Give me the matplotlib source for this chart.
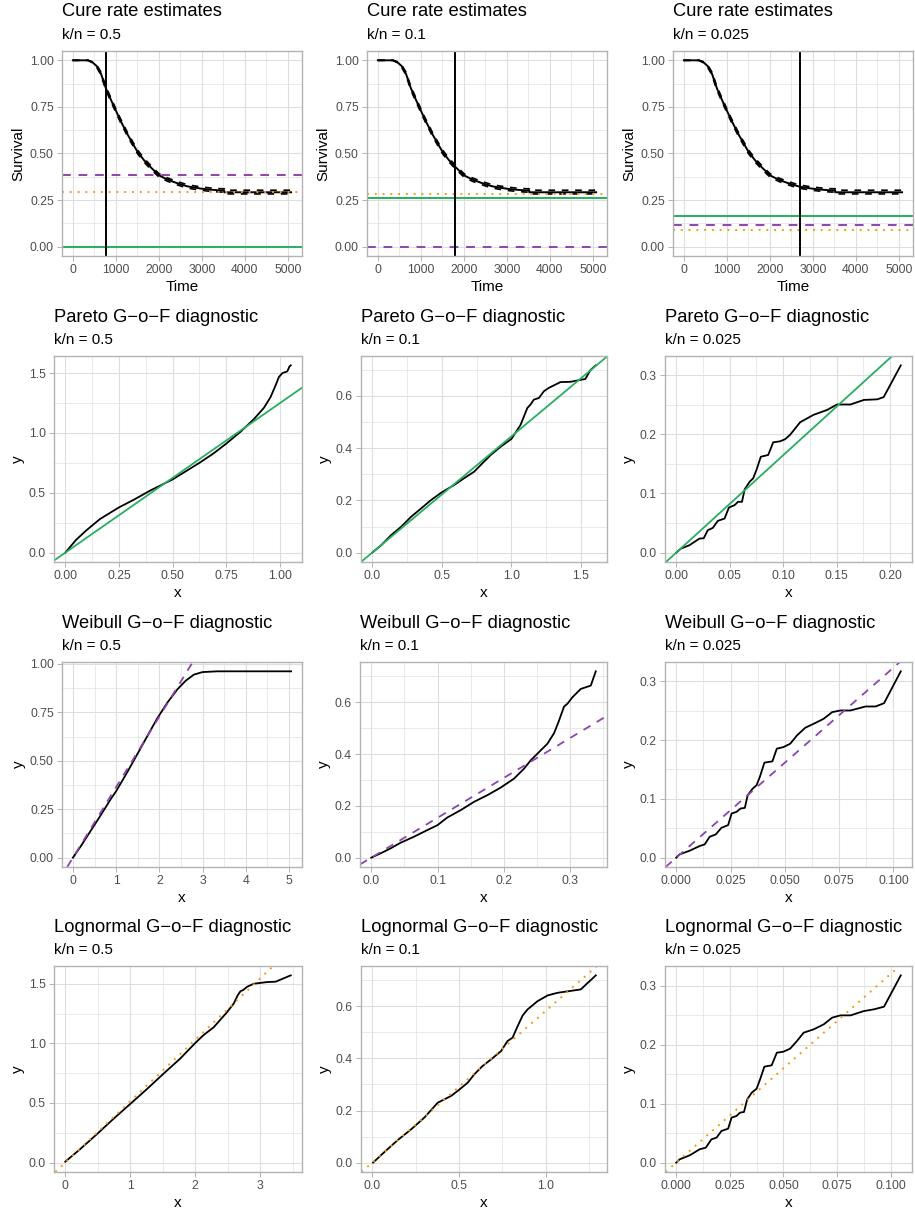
import matplotlib as mpl
mpl.use('Agg')
import matplotlib.pyplot as plt
from matplotlib.ticker import MultipleLocator, FormatStrFormatter

plt.rcParams['font.family'] = ['Liberation Sans', 'DejaVu Sans']

W, H = 915, 1211

GREEN = '#27AE60'
PURPLE = '#8E44AD'
ORANGE = '#F39C12'
GRID = '#DEDEDE'
BORDER = '#B3B3B3'

## k/n labels per column
kn_labels = ['0.5', '0.1', '0.025']

## Cure rate estimates: survival curve with confidence band
surv_time = [0, 350, 450, 550, 650, 767, 900, 1000, 1100, 1264, 1400, 1500, 1650, 1806,
             2000, 2200, 2349, 2500, 2659, 2800, 3000, 3200, 3434, 3520, 3520, 5075]
surv_est = [1.0, 1.0, 0.99, 0.97, 0.93, 0.85, 0.78, 0.73, 0.68, 0.605, 0.55, 0.51, 0.465, 0.427,
            0.383, 0.36, 0.347, 0.335, 0.324, 0.318, 0.311, 0.306, 0.302, 0.302, 0.292, 0.292]
surv_upper = [1.0, 1.0, 0.993, 0.976, 0.938, 0.86, 0.79, 0.74, 0.69, 0.615, 0.56, 0.52, 0.475, 0.437,
              0.392, 0.369, 0.356, 0.344, 0.333, 0.327, 0.32, 0.315, 0.311, 0.311, 0.303, 0.303]
surv_lower = [1.0, 1.0, 0.987, 0.964, 0.922, 0.84, 0.77, 0.72, 0.67, 0.595, 0.54, 0.50, 0.455, 0.417,
              0.374, 0.351, 0.338, 0.326, 0.315, 0.309, 0.302, 0.297, 0.293, 0.293, 0.283, 0.283]

cure_vline = [767, 1800, 2690]
cure_purple = [0.385, 0.0, 0.116]
cure_orange = [0.292, 0.283, 0.087]
cure_green = [0.0, 0.263, 0.164]

## Pareto G-o-F
pareto_05_x = [0, 0.051, 0.098, 0.161, 0.25, 0.317, 0.395, 0.5, 0.566, 0.629, 0.691, 0.749, 0.816,
               0.878, 0.925, 0.956, 0.98, 0.995, 1.011, 1.034, 1.044, 1.05]
pareto_05_y = [0, 0.108, 0.186, 0.28, 0.378, 0.44, 0.518, 0.612, 0.685, 0.755, 0.83, 0.91, 1.01,
               1.115, 1.21, 1.30, 1.40, 1.468, 1.50, 1.515, 1.555, 1.565]
pareto_01_x = [0, 0.064, 0.136, 0.208, 0.279, 0.351, 0.422, 0.5, 0.589, 0.661, 0.733, 0.792, 0.852,
               0.924, 1.0, 1.031, 1.067, 1.091, 1.115, 1.138, 1.162, 1.198, 1.234, 1.27, 1.353,
               1.425, 1.532, 1.568, 1.607]
pareto_01_y = [0, 0.028, 0.067, 0.099, 0.137, 0.169, 0.201, 0.231, 0.259, 0.285, 0.31, 0.342, 0.374,
               0.406, 0.435, 0.46, 0.49, 0.522, 0.554, 0.567, 0.586, 0.592, 0.618, 0.631, 0.653,
               0.654, 0.665, 0.699, 0.717]
pareto_0025_x = [0, 0.0044, 0.0122, 0.0217, 0.0257, 0.0295, 0.0342, 0.0389, 0.0452, 0.0493, 0.0546,
                 0.0578, 0.0615, 0.064, 0.0688, 0.0719, 0.075, 0.0791, 0.086, 0.0907, 0.097, 0.1017,
                 0.1064, 0.1159, 0.1284, 0.141, 0.1504, 0.163, 0.1755, 0.188, 0.194, 0.21]
pareto_0025_y = [0, 0.0068, 0.0124, 0.0237, 0.0243, 0.0379, 0.0418, 0.0537, 0.0576, 0.0763, 0.0802,
                 0.0859, 0.0859, 0.107, 0.12, 0.1254, 0.1395, 0.162, 0.165, 0.1864, 0.188, 0.1915,
                 0.1989, 0.2203, 0.2328, 0.241, 0.2503, 0.2503, 0.258, 0.259, 0.2627, 0.3164]

## Weibull G-o-F
weibull_05_x = [0, 0.185, 0.415, 0.646, 0.877, 1.0, 1.262, 1.492, 1.723, 1.954, 2.185, 2.415, 2.608,
                2.8, 3.0, 3.34, 5.0, 5.05]
weibull_05_y = [0, 0.06, 0.14, 0.22, 0.303, 0.343, 0.443, 0.535, 0.628, 0.72, 0.80, 0.868, 0.913,
                0.945, 0.958, 0.962, 0.962, 0.962]
weibull_01_x = [0, 0.0141, 0.0292, 0.0443, 0.0644, 0.0845, 0.1, 0.1147, 0.1348, 0.1549, 0.175, 0.1952,
                0.2153, 0.2304, 0.2404, 0.2505, 0.2656, 0.2757, 0.2832, 0.2907, 0.2958, 0.3033,
                0.3159, 0.331, 0.3385]
weibull_01_y = [0, 0.0167, 0.0359, 0.0577, 0.0808, 0.1064, 0.1256, 0.155, 0.1833, 0.2154, 0.241, 0.2705,
                0.3051, 0.3436, 0.3756, 0.4013, 0.4397, 0.4808, 0.5295, 0.5833, 0.594, 0.619,
                0.651, 0.664, 0.719]
weibull_0025_x = [0, 0.0015, 0.0062, 0.0108, 0.0131, 0.0154, 0.0182, 0.0208, 0.0239, 0.0255, 0.0278,
                  0.0296, 0.0316, 0.0329, 0.0352, 0.037, 0.0386, 0.0406, 0.0443, 0.0463, 0.0494,
                  0.0525, 0.0556, 0.0594, 0.0633, 0.0679, 0.0718, 0.0756, 0.0802, 0.0872, 0.0918,
                  0.0957, 0.1034]
weibull_0025_y = [0, 0.0056, 0.0119, 0.0198, 0.0226, 0.0356, 0.0395, 0.0508, 0.0554, 0.0751, 0.078,
                  0.0836, 0.0847, 0.1062, 0.1175, 0.1232, 0.1384, 0.1616, 0.1638, 0.1853, 0.1881,
                  0.1938, 0.2079, 0.2209, 0.2277, 0.2362, 0.2475, 0.2503, 0.2503, 0.2571, 0.2571,
                  0.2627, 0.3169]

## Lognormal G-o-F
lognormal_05_x = [0, 0.222, 0.479, 0.737, 1.0, 1.253, 1.51, 1.768, 2.0, 2.129, 2.284, 2.49, 2.593,
                  2.655, 2.696, 2.737, 2.8, 2.902, 3.108, 3.237, 3.469]
lognormal_05_y = [0.008, 0.11, 0.235, 0.365, 0.492, 0.615, 0.745, 0.872, 1.003, 1.07, 1.135, 1.262,
                  1.335, 1.405, 1.437, 1.447, 1.475, 1.5, 1.514, 1.517, 1.57]
lognormal_01_x = [0.005, 0.071, 0.148, 0.225, 0.301, 0.378, 0.455, 0.5, 0.551, 0.589, 0.637, 0.685,
                  0.743, 0.781, 0.81, 0.839, 0.868, 0.896, 0.954, 1.012, 1.069, 1.203, 1.29]
lognormal_01_y = [0, 0.041, 0.087, 0.128, 0.173, 0.23, 0.256, 0.279, 0.307, 0.339, 0.371, 0.396,
                  0.428, 0.467, 0.48, 0.524, 0.565, 0.588, 0.62, 0.642, 0.652, 0.665, 0.719]
lognormal_0025_x = [0, 0.0016, 0.0063, 0.0109, 0.0138, 0.0164, 0.0188, 0.0211, 0.0242, 0.0258, 0.0281,
                    0.0297, 0.0316, 0.0331, 0.0352, 0.0375, 0.0391, 0.0411, 0.0445, 0.0469, 0.05,
                    0.0531, 0.0563, 0.0594, 0.0641, 0.0688, 0.0727, 0.0766, 0.0813, 0.0875, 0.0922,
                    0.0969, 0.1047]
lognormal_0025_y = [0, 0.0056, 0.0124, 0.0226, 0.0254, 0.0395, 0.0424, 0.0537, 0.0576, 0.0763, 0.0791,
                    0.0847, 0.0859, 0.1073, 0.1186, 0.1254, 0.1412, 0.1627, 0.165, 0.1864, 0.1881,
                    0.1932, 0.2062, 0.2203, 0.226, 0.2345, 0.2458, 0.2497, 0.2497, 0.257, 0.2599,
                    0.2644, 0.3175]

## fitted reference lines (slope, intercept)
pareto_lines = [(1.25, 0.0), (0.445, 0.0), (1.645, 0.0)]
weibull_lines = [(0.364, 0.0), (1.54, 0.0), (3.23, 0.0)]
lognormal_lines = [(0.515, 0.0), (0.582, 0.0), (3.2, 0.0)]

## panel boxes in pixels: left, top, right, bottom
ROW_TOPS = [(51, 256), (356, 562), (662, 867), (966, 1172)]
COL_LR = [
    [(62, 302), (367, 607), (673, 913)],
    [(54, 302), (361, 607), (665, 912)],
    [(62, 302), (360, 607), (665, 912)],
    [(54, 302), (361, 607), (665, 912)],
]

fig = plt.figure(figsize=(W / 100, H / 100), dpi=100)


def make_axes(r, c, title, xlabel, ylabel, xstep, ystep, xfmt, yfmt):
    t, b = ROW_TOPS[r]
    l, rr = COL_LR[r][c]
    ax = fig.add_axes([l / W, 1 - b / H, (rr - l) / W, (b - t) / H])
    fig.text(l / W, 1 - (t - 34.5) / H, title, fontsize=13.2, va='baseline')
    fig.text(l / W, 1 - (t - 12) / H, 'k/n = ' + kn_labels[c], fontsize=11, va='baseline')
    ax.xaxis.set_major_locator(MultipleLocator(xstep))
    ax.xaxis.set_minor_locator(MultipleLocator(xstep / 2))
    ax.yaxis.set_major_locator(MultipleLocator(ystep))
    ax.yaxis.set_minor_locator(MultipleLocator(ystep / 2))
    ax.xaxis.set_major_formatter(FormatStrFormatter(xfmt))
    ax.yaxis.set_major_formatter(FormatStrFormatter(yfmt))
    ax.tick_params(which='major', length=3.7, width=0.7, color=BORDER, labelsize=8.8,
                   labelcolor='#4D4D4D', pad=2.2)
    ax.tick_params(which='minor', length=0)
    ax.grid(which='major', color=GRID, lw=0.8)
    ax.grid(which='minor', color=GRID, lw=0.45)
    ax.set_axisbelow(True)
    for s in ax.spines.values():
        s.set_color(BORDER)
        s.set_linewidth(1.0)
    ax.set_xlabel(xlabel, fontsize=11, labelpad=2.5)
    ax.set_ylabel(ylabel, fontsize=11, labelpad=3)
    return ax


# Row 1: cure rate estimates
for c in range(3):
    ax = make_axes(0, c, 'Cure rate estimates', 'Time', 'Survival', 1000, 0.25, '%d', '%.2f')
    ax.plot(surv_time, surv_upper, color='black', lw=1.2, dashes=(4, 4))
    ax.plot(surv_time, surv_lower, color='black', lw=1.2, dashes=(4, 4))
    ax.plot(surv_time, surv_est, color='black', lw=1.4)
    ax.axhline(cure_green[c], color=GREEN, lw=1.4)
    ax.axhline(cure_purple[c], color=PURPLE, lw=1.4, dashes=(4.5, 4))
    ax.axhline(cure_orange[c], color=ORANGE, lw=1.4, dashes=(1, 3))
    ax.axvline(cure_vline[c], color='black', lw=1.4)
    ax.set_ylim(-0.05, 1.05)

# Row 2-4: goodness of fit diagnostics
rows = [
    ('Pareto G\u2212o\u2212F diagnostic',
     [(pareto_05_x, pareto_05_y), (pareto_01_x, pareto_01_y), (pareto_0025_x, pareto_0025_y)],
     pareto_lines, dict(color=GREEN, lw=1.3),
     [(0.25, 0.5, '%.2f', '%.1f'), (0.5, 0.2, '%.1f', '%.1f'), (0.05, 0.1, '%.2f', '%.1f')]),
    ('Weibull G\u2212o\u2212F diagnostic',
     [(weibull_05_x, weibull_05_y), (weibull_01_x, weibull_01_y), (weibull_0025_x, weibull_0025_y)],
     weibull_lines, dict(color=PURPLE, lw=1.3, dashes=(4.5, 4)),
     [(1, 0.25, '%d', '%.2f'), (0.1, 0.2, '%.1f', '%.1f'), (0.025, 0.1, '%.3f', '%.1f')]),
    ('Lognormal G\u2212o\u2212F diagnostic',
     [(lognormal_05_x, lognormal_05_y), (lognormal_01_x, lognormal_01_y), (lognormal_0025_x, lognormal_0025_y)],
     lognormal_lines, dict(color=ORANGE, lw=1.4, dashes=(1, 3)),
     [(1, 0.5, '%d', '%.1f'), (0.5, 0.2, '%.1f', '%.1f'), (0.025, 0.1, '%.3f', '%.1f')]),
]

for r, (title, curves, lines, lstyle, ticks) in enumerate(rows, start=1):
    for c in range(3):
        xs, ys = curves[c]
        xstep, ystep, xfmt, yfmt = ticks[c]
        ax = make_axes(r, c, title, 'x', 'y', xstep, ystep, xfmt, yfmt)
        ax.plot(xs, ys, color='black', lw=1.3)
        slope, icpt = lines[c]
        ax.axline((0, icpt), slope=slope, **lstyle)

plt.savefig('out.png', dpi=100, facecolor='white')
plt.close(fig)
